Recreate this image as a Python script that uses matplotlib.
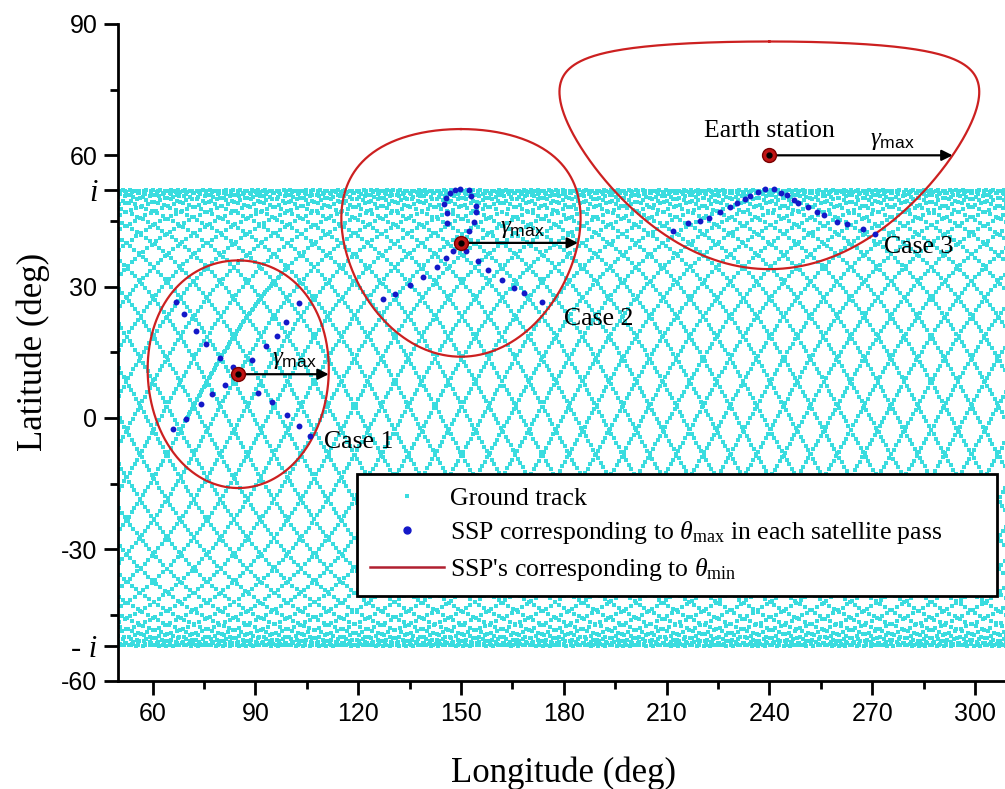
import numpy as np
import matplotlib
matplotlib.use("Agg")
import matplotlib.pyplot as plt
from matplotlib.lines import Line2D

plt.rcParams["mathtext.fontset"] = "custom"
plt.rcParams["mathtext.rm"] = "Liberation Serif"
plt.rcParams["mathtext.it"] = "Liberation Serif:italic"
plt.rcParams["mathtext.sf"] = "Liberation Sans"

# orbit of the satellite (circular, low earth orbit, 46 revs / 3 days repeat)
incl = 52.0            # inclination i, deg
period = 5619.0        # orbital period, s
earth_rate = 360.0 / 86164.0   # deg/s
track_days = 3.0
track_step = 20.0      # s between ground track samples
lon_node = 70.0        # longitude of the first ascending node, deg

# earth stations and the coverage half-angle
station_lon = [85.0, 150.0, 240.0]
station_lat = [10.0, 40.0, 60.0]
gamma_max = 26.0       # deg

# SSP at maximum elevation for each pass over the station
ssp1_lon = [66.8, 69.1, 72.7, 75.7, 79.8, 83.4, 89.0, 93.2, 96.3, 98.9, 102.6,
            81.2, 77.4, 74.2, 69.8, 66.1, 90.9, 94.8, 99.2, 102.6, 106.0]
ssp1_lat = [26.4, 23.7, 19.9, 17.0, 13.8, 11.6, 13.2, 16.4, 18.7, 21.9, 26.2,
            7.5, 5.4, 3.2, -0.3, -2.5, 5.8, 3.7, 0.7, -1.8, -4.1]
ssp2_lon = [145.1, 145.7, 146.9, 148.3, 149.6, 152.4, 153.0, 154.5, 154.5, 153.7,
            152.3, 145.9, 145.9, 147.8, 145.7, 143.0, 138.8, 135.2, 130.8, 127.2,
            151.5, 155.0, 157.8, 162.1, 165.6, 168.5, 173.6]
ssp2_lat = [48.9, 50.2, 51.3, 52.1, 52.2, 52.1, 50.7, 48.4, 47.1, 44.8,
            42.7, 46.8, 44.5, 38.2, 36.5, 34.4, 32.1, 30.4, 28.3, 27.2,
            38.2, 35.9, 33.8, 31.5, 29.8, 28.5, 26.6]
ssp3_lon = [212.0, 216.2, 219.8, 222.3, 225.7, 228.4, 230.7, 232.8, 234.4, 236.6,
            238.8, 241.4, 243.4, 245.1, 247.3, 248.5, 251.4, 253.9, 256.0, 259.7,
            262.8, 267.3, 270.9]
ssp3_lat = [42.8, 44.5, 45.0, 45.7, 47.1, 48.1, 49.0, 50.0, 50.7, 51.6,
            52.2, 52.2, 51.5, 50.9, 49.8, 49.2, 48.3, 47.1, 46.4, 44.8,
            44.3, 43.1, 42.0]

case_labels = ["Case 1", "Case 2", "Case 3"]
case_label_pos = [(110.0, -5.5), (180.0, 22.5), (273.5, 39.0)]
gamma_label_pos = [(101.5, 13.5), (168.0, 43.5), (276.0, 63.5)]


def ground_track(days, step):
    t = np.arange(0.0, days * 86400.0, step)
    u = np.radians(360.0 * t / period)
    i = np.radians(incl)
    lat = np.degrees(np.arcsin(np.sin(i) * np.sin(u)))
    lon = lon_node + np.degrees(np.arctan2(np.cos(i) * np.sin(u), np.cos(u))) - earth_rate * t
    return np.mod(lon, 360.0), lat


def coverage_circle(lon0, lat0, gamma, n=721):
    az = np.linspace(0, 2 * np.pi, n)
    p0, g = np.radians(lat0), np.radians(gamma)
    lat = np.arcsin(np.sin(p0) * np.cos(g) + np.cos(p0) * np.sin(g) * np.cos(az))
    dlon = np.arctan2(np.sin(az) * np.sin(g) * np.cos(p0),
                      np.cos(g) - np.sin(p0) * np.sin(lat))
    return lon0 + np.degrees(dlon), np.degrees(lat)


def edge_lon(lon0, lat0, gamma):
    p0, g = np.radians(lat0), np.radians(gamma)
    c = (np.cos(g) - np.sin(p0) ** 2) / np.cos(p0) ** 2
    return lon0 + np.degrees(np.arccos(c))


fig = plt.figure(figsize=(10.05, 7.89), dpi=100)
ax = fig.add_axes([0.1177, 0.1373, 0.8865, 0.8323])

gt_lon, gt_lat = ground_track(track_days, track_step)
ax.plot(gt_lon, gt_lat, ls="none", marker="s", ms=2.5, mew=0,
        color="#3adcdf", zorder=1)

for lon0, lat0 in zip(station_lon, station_lat):
    cl, ct = coverage_circle(lon0, lat0, gamma_max)
    ax.plot(cl, ct, color="#cc2020", lw=1.6, zorder=2)

for xs, ys in [(ssp1_lon, ssp1_lat), (ssp2_lon, ssp2_lat), (ssp3_lon, ssp3_lat)]:
    ax.scatter(xs, ys, s=18, color="#1418c8", lw=0, zorder=3)

for k, (lon0, lat0) in enumerate(zip(station_lon, station_lat)):
    ax.annotate("", xy=(edge_lon(lon0, lat0, gamma_max), lat0), xytext=(lon0, lat0),
                arrowprops=dict(arrowstyle="-|>", color="black", lw=1.6,
                                mutation_scale=16, shrinkA=0, shrinkB=0), zorder=4)
    ax.plot(lon0, lat0, "o", ms=10, mfc="#c01515", mec="#7a0000", mew=1, zorder=5)
    ax.plot(lon0, lat0, "o", ms=3.5, color="black", zorder=6)
    gx, gy = gamma_label_pos[k]
    ax.text(gx, gy, r"$\gamma_{\mathsf{max}}$", fontsize=18, ha="center", va="center", zorder=6)
    cx, cy = case_label_pos[k]
    ax.text(cx, cy, case_labels[k], family="Liberation Serif", fontsize=18.5,
            ha="left", va="center", zorder=6)

ax.text(240.0, 65.5, "Earth station", family="Liberation Serif", fontsize=18.5,
        ha="center", va="center")

ax.set_xlim(50, 310)
ax.set_ylim(-60, 90)
ax.set_xticks(np.arange(60, 301, 30))
ax.set_xticks(np.arange(75, 301, 30), minor=True)
ax.set_yticks([-60, -incl, -30, 0, 30, incl, 60, 90],
              ["-60", "- i", "-30", "0", "30", "i", "60", "90"])
ax.set_yticks([-45, -15, 15, 45, 75], minor=True)

for s in ["top", "right"]:
    ax.spines[s].set_visible(False)
for s in ["left", "bottom"]:
    ax.spines[s].set_linewidth(2.0)
ax.tick_params(which="major", length=10, width=2, pad=5)
ax.tick_params(which="minor", length=5.5, width=2)
for lab in ax.get_xticklabels():
    lab.set_family("Liberation Sans")
    lab.set_fontsize(18)
for lab in ax.get_yticklabels():
    if "i" in lab.get_text():
        lab.set_family("Liberation Serif")
        lab.set_style("italic")
        lab.set_fontsize(22)
    else:
        lab.set_family("Liberation Sans")
        lab.set_fontsize(18)

ax.set_xlabel("Longitude (deg)", family="Liberation Serif", fontsize=25, labelpad=22)
ax.set_ylabel("Latitude (deg)", family="Liberation Serif", fontsize=25, labelpad=8)

handles = [
    Line2D([], [], ls="none", marker="s", ms=2.8, mew=0, color="#3adcdf"),
    Line2D([], [], ls="none", marker="o", ms=5, color="#1418c8"),
    Line2D([], [], color="#b02030", lw=1.8),
]
labels = [
    "Ground track",
    r"SSP corresponding to $\theta_{\mathrm{max}}$ in each satellite pass",
    r"SSP's corresponding to $\theta_{\mathrm{min}}$",
]
leg = ax.legend(handles, labels, loc="upper left", bbox_to_anchor=(0.268, 0.129, 0.7185, 0.186),
                mode="expand", prop={"family": "Liberation Serif", "size": 18.5},
                frameon=True, fancybox=False, edgecolor="black", framealpha=1,
                borderpad=0.5, handlelength=2.9, handletextpad=0.2, labelspacing=0.38,
                borderaxespad=0)
leg.get_frame().set_linewidth(2.0)
leg.set_zorder(10)

fig.savefig("out.png", dpi=100)
